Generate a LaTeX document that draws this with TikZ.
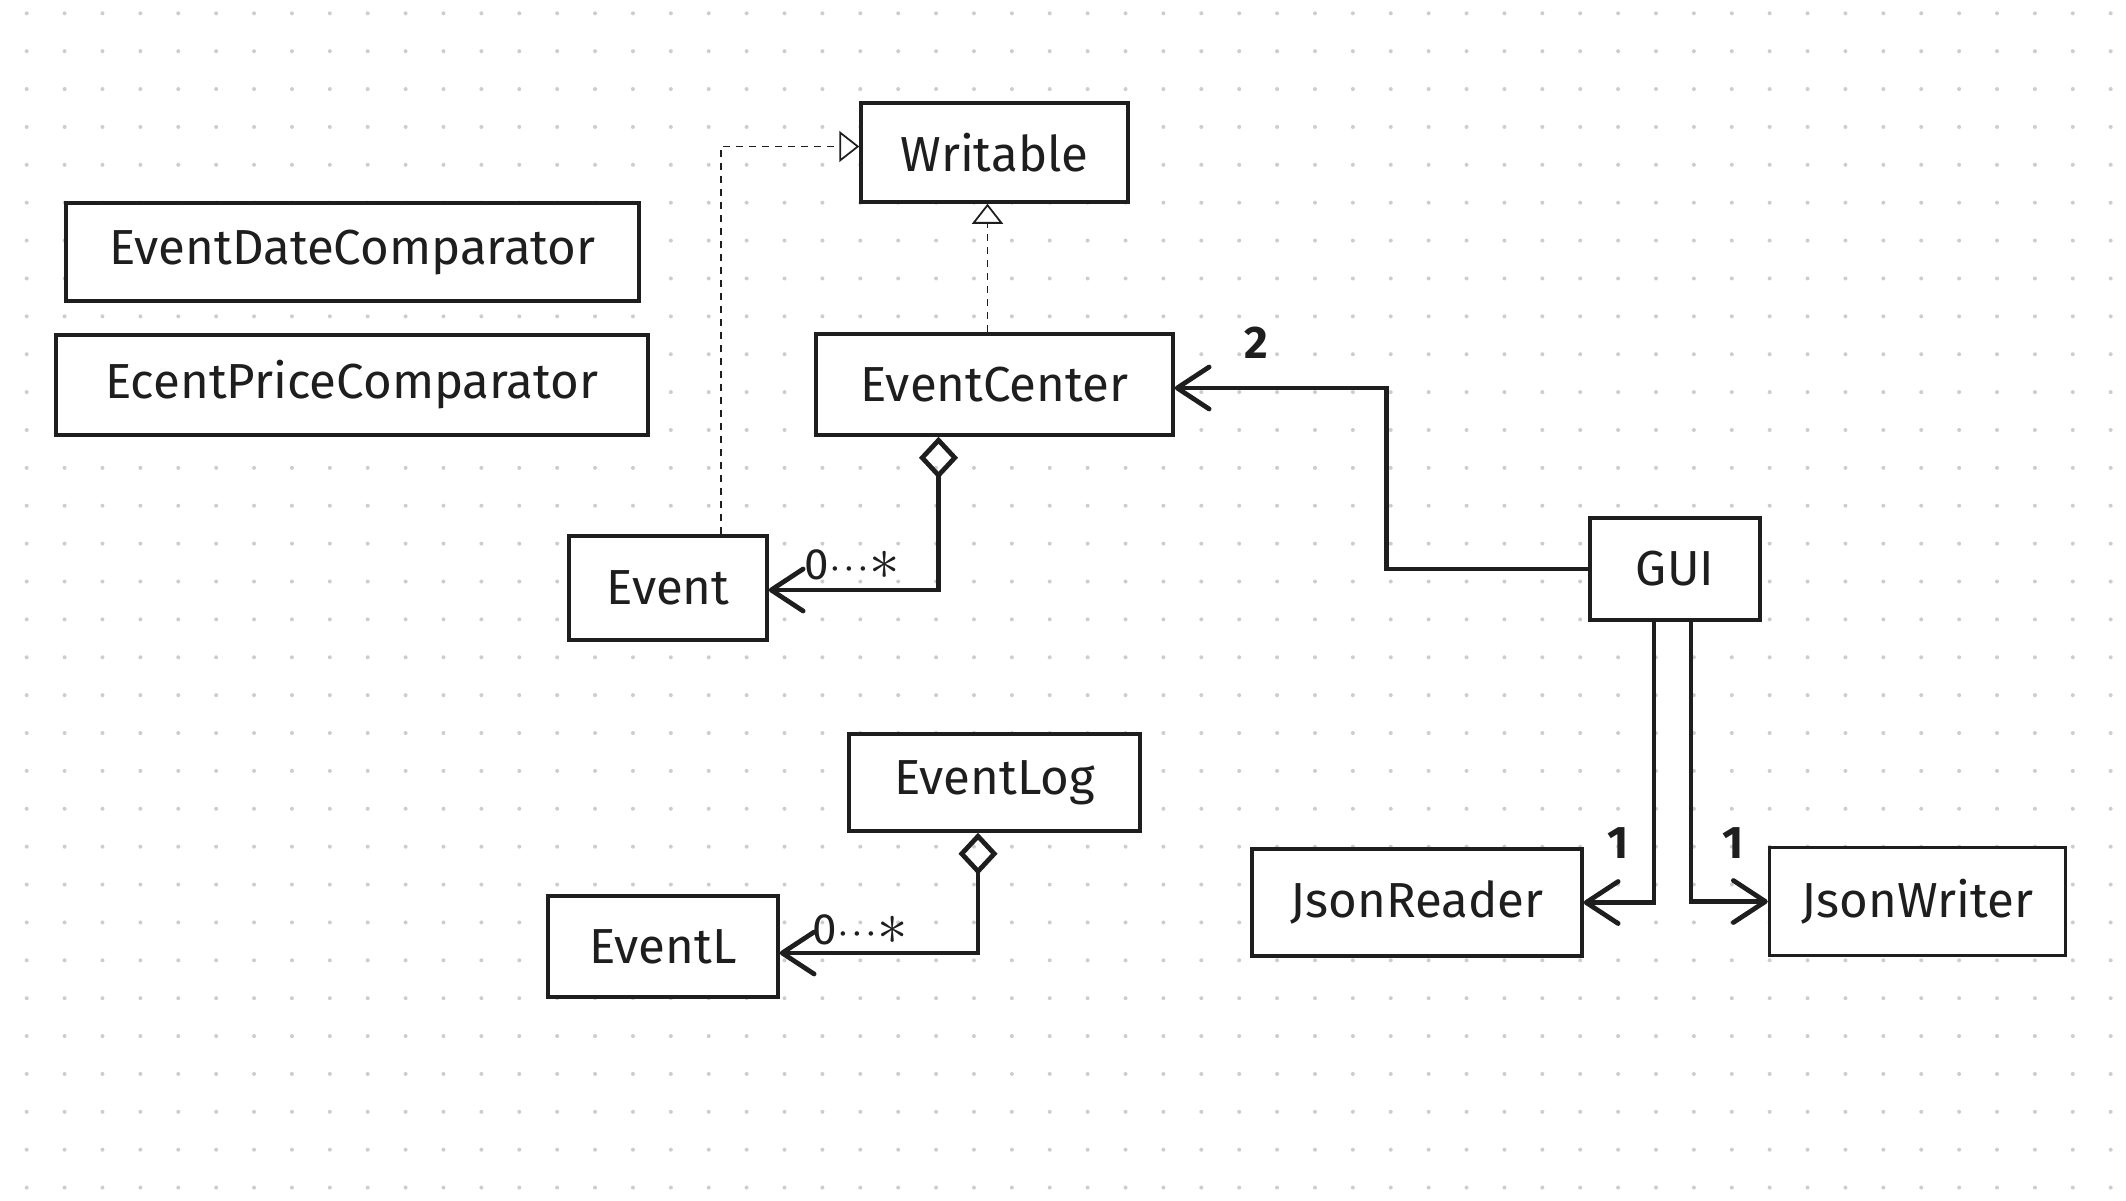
\documentclass[tikz,border=0pt]{standalone}
\usepackage{fontspec}
\setmainfont{Fira Sans}
\usetikzlibrary{arrows.meta,calc}
\definecolor{ink}{HTML}{1E1E1E}
\definecolor{griddot}{HTML}{CDCDCD}

\begin{document}
\begin{tikzpicture}[x=0.1mm,y=-0.1mm,
  cls/.style={draw=ink,line width=1pt,fill=white,inner sep=0pt,text=ink,font=\fontsize{14}{16}\selectfont},
  assoc/.style={draw=ink,line width=1.35pt,-{Straight Barb[length=3.2mm,width=4.2mm,round]}},
  aggr/.style={draw=ink,line width=1.35pt,{Diamond[open,length=4.2mm,width=3.9mm]}-{Straight Barb[length=3.2mm,width=4.2mm,round]}},
  realize/.style={draw=ink,line width=0.5pt,dash pattern=on 0.7mm off 0.6mm,-{Triangle[open,length=2mm,width=3.1mm]}},
  mult/.style={text=ink,font=\fontsize{13}{15}\selectfont\bfseries},
  card/.style={text=ink,font=\fontsize{12.5}{14}\selectfont}]
  \useasboundingbox (0,0) rectangle (2126,1200);
  \fill[white] (0,0) rectangle (2126,1200);
  \foreach \i in {0,...,55}{\foreach \j in {0,...,31}{\fill[griddot] (26.7+37.89*\i,13.3+37.88*\j) circle (0.2mm);}}

  \node[cls,minimum width=57.3mm,minimum height=9.8mm] (datecmp) at (352.5,252) {EventDateComparator};
  \node[cls,minimum width=59.2mm,minimum height=10mm] (pricecmp) at (352,385) {EcentPriceComparator};
  \node[cls,minimum width=26.7mm,minimum height=9.9mm] (Writable) at (994.5,152.5) {Writable};
  \node[cls,minimum width=35.7mm,minimum height=10.1mm] (EventCenter) at (994.5,384.5) {EventCenter};
  \node[cls,minimum width=19.8mm,minimum height=10.4mm] (Event) at (668,588) {Event};
  \node[cls,minimum width=17mm,minimum height=10.2mm] (GUI) at (1675,569) {GUI};
  \node[cls,minimum width=29.1mm,minimum height=9.7mm] (EventLog) at (994.5,782.5) {EventLog};
  \node[cls,minimum width=23mm,minimum height=10.1mm] (EventL) at (663,946.5) {EventL};
  \node[cls,minimum width=33mm,minimum height=10.7mm] (JsonReader) at (1417,902.5) {JsonReader};
  \node[cls,minimum width=29.6mm,minimum height=10.8mm] (JsonWriter) at (1917.5,901.5) {JsonWriter};

  \draw[realize] ([xshift=5.3mm]Event.north) |- ([yshift=0.6mm]Writable.west);
  \draw[realize] ([xshift=-0.7mm]EventCenter.north) -- ([xshift=-0.7mm]Writable.south);
  \draw[aggr] ([xshift=-5.6mm]EventCenter.south) |- ([yshift=-0.2mm]Event.east);
  \draw[aggr] ([xshift=-1.65mm]EventLog.south) |- ([yshift=-0.65mm]EventL.east);
  \draw[assoc] (GUI.west) -- ++(-202,0) |- ([yshift=-0.35mm]EventCenter.east);
  \draw[assoc] ([xshift=-2.1mm]GUI.south) |- (JsonReader.east);
  \draw[assoc] ([xshift=1.6mm]GUI.south) |- (JsonWriter.west);

  \node[card] (evcard) at (852,565) {0$\cdot\!\cdot\!\cdot${\fontsize{17}{17}\selectfont$\ast$}};
  \node[card] (logcard) at (860,930) {0$\cdot\!\cdot\!\cdot${\fontsize{17}{17}\selectfont$\ast$}};
  \node[mult] (centermult) at (1256,343) {2};
  \node[mult] (readermult) at (1618,843) {1};
  \node[mult] (writermult) at (1733,843) {1};
\end{tikzpicture}
\end{document}
